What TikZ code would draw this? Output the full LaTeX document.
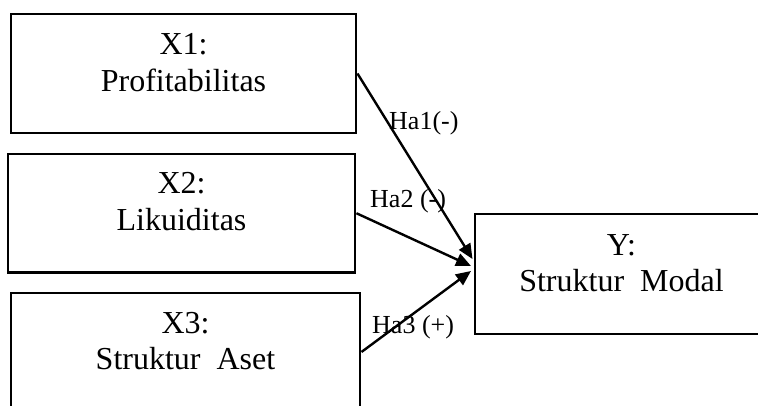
\documentclass[tikz,border=0pt]{standalone}
\usepackage{fontspec}
\setmainfont{Liberation Serif}
\usetikzlibrary{arrows.meta}
\begin{document}
\begin{tikzpicture}[x=1pt,y=-1pt,
  box/.style={draw,line width=2.9pt,inner sep=0pt},
  boxtext/.style={anchor=base,inner sep=0pt,font=\fontsize{32}{37}\selectfont},
  lbl/.style={anchor=base west,inner sep=0pt,font=\fontsize{26}{30}\selectfont},
  arr/.style={line width=2.4pt,-{Triangle[length=15pt,width=13pt]}}]
\useasboundingbox (0,0) rectangle (758,406);
\clip (0,0) rectangle (758,406);
\node[box,minimum width=345pt,minimum height=119pt] (x1) at (183.5,73.5) {};
\node[box,minimum width=347pt,minimum height=118.5pt] (x2) at (181.5,213.25) {};
\node[box,minimum width=349pt,minimum height=118pt] (x3) at (185.5,352) {};
\node[box,minimum width=293pt,minimum height=120pt] (y) at (621.5,274) {};
\node[boxtext] (x1a) at (183.5,55) {X1:};
\node[boxtext] (x1b) at (183.5,92) {Profitabilitas};
\node[boxtext] (x2a) at (181.5,194) {X2:};
\node[boxtext] (x2b) at (181.5,231) {Likuiditas};
\node[boxtext] (x3a) at (185.5,333) {X3:};
\node[boxtext] (x3b) at (185.5,369) {Struktur\ \ Aset};
\node[boxtext] (ya) at (621.5,256) {Y:};
\node[boxtext] (yb) at (621.5,291) {Struktur\ \ Modal};
\coordinate (t1) at (472.5,259);
\coordinate (t2) at (471,266);
\coordinate (t3) at (471,271);
\draw[arr] (x1.east) -- (t1);
\draw[arr] (x2.east) -- (t2);
\draw[arr] (x3.east) -- (t3);
\node[lbl] (h1) at (389,130) {Ha1(-)};
\node[lbl] (h2) at (370,208) {Ha2 (-)};
\node[lbl] (h3) at (372,333) {Ha3 (+)};
\end{tikzpicture}
\end{document}
